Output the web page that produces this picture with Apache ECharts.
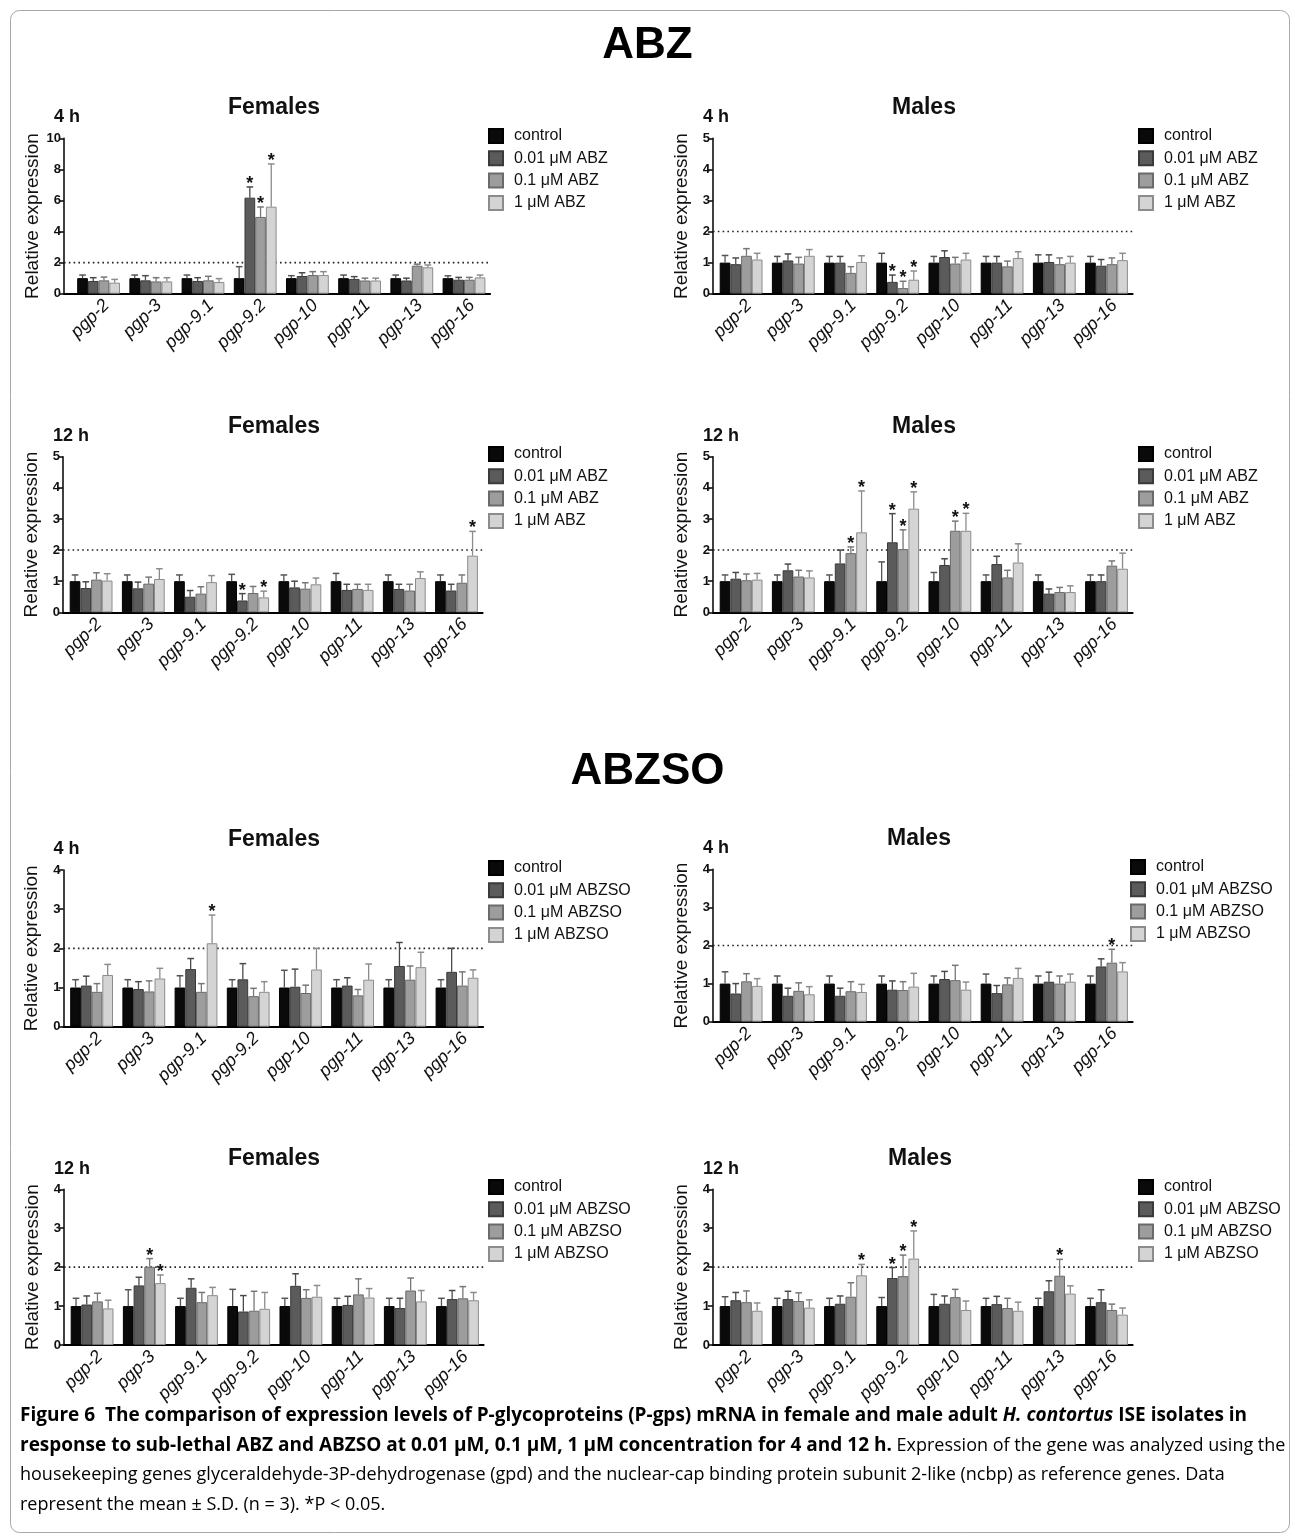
<!DOCTYPE html>
<html>
<head>
<meta charset="utf-8">
<title>P-gp expression after ABZ and ABZSO exposure</title>
<script src="https://cdn.jsdelivr.net/npm/echarts@6/dist/echarts.min.js"></script>
<style>
  html, body { margin: 0; padding: 0; background: #fff; }
  #chart { width: 1295px; height: 1537px; }
</style>
</head>
<body>
<div id="chart"></div>
<script>
// ---- data -------------------------------------------------------------
const genes = ['pgp-2', 'pgp-3', 'pgp-9.1', 'pgp-9.2', 'pgp-10', 'pgp-11', 'pgp-13', 'pgp-16'];
const abzNames = ['control', '0.01 \u03bcM ABZ', '0.1 \u03bcM ABZ', '1 \u03bcM ABZ'];
const abzsoNames = ['control', '0.01 \u03bcM ABZSO', '0.1 \u03bcM ABZSO', '1 \u03bcM ABZSO'];

// axis ranges: [min, max, step]
const abz4FAxis = [0, 10, 2];
const abz4MAxis = [0, 5, 1];
const abz12FAxis = [0, 5, 1];
const abz12MAxis = [0, 5, 1];
const abzso4FAxis = [0, 4, 1];
const abzso4MAxis = [0, 4, 1];
const abzso12FAxis = [0, 4, 1];
const abzso12MAxis = [0, 4, 1];

// mean relative expression, rows: control, 0.01, 0.1, 1 uM
const abz4FMean = [
  [1.00, 1.00, 1.00, 1.00, 1.00, 1.00, 1.00, 1.00],
  [0.82, 0.86, 0.82, 6.18, 1.14, 0.95, 0.85, 0.90],
  [0.86, 0.79, 0.86, 4.94, 1.20, 0.85, 1.80, 0.90],
  [0.71, 0.79, 0.75, 5.60, 1.20, 0.85, 1.70, 1.05]
];
const abz4FSd = [
  [0.20, 0.20, 0.20, 0.74, 0.16, 0.20, 0.20, 0.15],
  [0.21, 0.30, 0.21, 0.69, 0.21, 0.15, 0.15, 0.15],
  [0.21, 0.24, 0.26, 0.64, 0.22, 0.15, 0.10, 0.15],
  [0.21, 0.24, 0.22, 2.75, 0.22, 0.15, 0.15, 0.15]
];
const abz4FStars = [[3, 1], [3, 2], [3, 3]];

const abz4MMean = [
  [1.00, 1.00, 1.00, 1.00, 1.00, 1.00, 1.00, 1.00],
  [0.95, 1.07, 1.00, 0.38, 1.18, 1.00, 1.02, 0.90],
  [1.22, 0.97, 0.67, 0.18, 0.97, 0.88, 0.95, 0.95],
  [1.10, 1.22, 1.02, 0.45, 1.10, 1.15, 1.00, 1.08]
];
const abz4MSd = [
  [0.23, 0.20, 0.20, 0.30, 0.20, 0.20, 0.25, 0.20],
  [0.20, 0.21, 0.20, 0.22, 0.20, 0.20, 0.23, 0.20],
  [0.23, 0.20, 0.20, 0.22, 0.20, 0.17, 0.20, 0.20],
  [0.20, 0.20, 0.20, 0.28, 0.20, 0.20, 0.20, 0.22]
];
const abz4MStars = [[3, 1], [3, 2], [3, 3]];

const abz12FMean = [
  [1.00, 1.00, 1.00, 1.00, 1.00, 1.00, 1.00, 1.00],
  [0.78, 0.77, 0.50, 0.38, 0.80, 0.72, 0.75, 0.70],
  [1.05, 0.92, 0.60, 0.62, 0.76, 0.75, 0.70, 0.95],
  [1.02, 1.07, 0.97, 0.48, 0.90, 0.72, 1.10, 1.82]
];
const abz12FSd = [
  [0.20, 0.20, 0.20, 0.22, 0.20, 0.25, 0.20, 0.20],
  [0.20, 0.20, 0.20, 0.22, 0.20, 0.18, 0.15, 0.20],
  [0.22, 0.21, 0.22, 0.21, 0.19, 0.15, 0.20, 0.25],
  [0.22, 0.33, 0.21, 0.20, 0.20, 0.18, 0.20, 0.78]
];
const abz12FStars = [[3, 1], [3, 3], [7, 3]];

const abz12MMean = [
  [1.00, 1.00, 1.00, 1.00, 1.00, 1.00, 1.00, 1.00],
  [1.08, 1.35, 1.57, 2.25, 1.52, 1.55, 0.60, 1.00],
  [1.03, 1.15, 1.90, 2.03, 2.62, 1.12, 0.65, 1.50],
  [1.05, 1.12, 2.57, 3.33, 2.62, 1.60, 0.65, 1.40]
];
const abz12MSd = [
  [0.20, 0.20, 0.20, 0.62, 0.28, 0.20, 0.20, 0.20],
  [0.20, 0.20, 0.43, 0.92, 0.20, 0.25, 0.15, 0.20],
  [0.20, 0.20, 0.20, 0.62, 0.31, 0.23, 0.15, 0.15],
  [0.20, 0.21, 1.33, 0.54, 0.56, 0.60, 0.20, 0.50]
];
const abz12MStars = [[2, 2], [2, 3], [3, 1], [3, 2], [3, 3], [4, 2], [4, 3]];

const abzso4FMean = [
  [1.00, 1.00, 1.00, 1.00, 1.00, 1.00, 1.00, 1.00],
  [1.05, 0.96, 1.47, 1.21, 1.02, 1.05, 1.55, 1.40],
  [0.89, 0.90, 0.89, 0.78, 0.86, 0.80, 1.20, 1.05],
  [1.32, 1.23, 2.13, 0.89, 1.46, 1.20, 1.52, 1.25]
];
const abzso4FSd = [
  [0.20, 0.20, 0.30, 0.20, 0.44, 0.20, 0.20, 0.20],
  [0.24, 0.19, 0.27, 0.40, 0.45, 0.20, 0.60, 0.60],
  [0.21, 0.27, 0.21, 0.20, 0.20, 0.15, 0.35, 0.35],
  [0.27, 0.26, 0.72, 0.26, 0.54, 0.40, 0.38, 0.20]
];
const abzso4FStars = [[2, 3]];

const abzso4MMean = [
  [1.00, 1.00, 1.00, 1.00, 1.00, 1.00, 1.00, 1.00],
  [0.74, 0.68, 0.68, 0.84, 1.12, 0.75, 1.05, 1.45],
  [1.06, 0.81, 0.80, 0.83, 1.09, 0.98, 1.00, 1.55],
  [0.94, 0.72, 0.78, 0.92, 0.84, 1.15, 1.05, 1.32]
];
const abzso4MSd = [
  [0.31, 0.20, 0.20, 0.20, 0.20, 0.25, 0.20, 0.20],
  [0.26, 0.20, 0.20, 0.23, 0.20, 0.20, 0.25, 0.20],
  [0.20, 0.21, 0.25, 0.22, 0.39, 0.17, 0.20, 0.35],
  [0.19, 0.20, 0.20, 0.35, 0.20, 0.25, 0.20, 0.23]
];
const abzso4MStars = [[7, 2]];

const abzso12FMean = [
  [1.00, 1.00, 1.00, 1.00, 1.00, 1.00, 1.00, 1.00],
  [1.04, 1.53, 1.47, 0.86, 1.52, 1.03, 0.95, 1.18],
  [1.12, 2.01, 1.10, 0.88, 1.21, 1.30, 1.40, 1.20],
  [0.94, 1.59, 1.28, 0.93, 1.24, 1.22, 1.12, 1.15]
];
const abzso12FSd = [
  [0.20, 0.42, 0.20, 0.43, 0.20, 0.20, 0.20, 0.20],
  [0.22, 0.21, 0.23, 0.41, 0.31, 0.22, 0.25, 0.22],
  [0.21, 0.21, 0.25, 0.50, 0.21, 0.40, 0.32, 0.30],
  [0.21, 0.21, 0.20, 0.42, 0.29, 0.23, 0.28, 0.20]
];
const abzso12FStars = [[1, 2], [1, 3]];

const abzso12MMean = [
  [1.00, 1.00, 1.00, 1.00, 1.00, 1.00, 1.00, 1.00],
  [1.15, 1.18, 1.06, 1.72, 1.06, 1.05, 1.38, 1.10],
  [1.10, 1.13, 1.24, 1.77, 1.23, 0.95, 1.78, 0.90],
  [0.88, 0.96, 1.79, 2.22, 0.90, 0.88, 1.32, 0.78]
];
const abzso12MSd = [
  [0.24, 0.20, 0.20, 0.22, 0.30, 0.20, 0.20, 0.20],
  [0.20, 0.20, 0.20, 0.27, 0.20, 0.20, 0.27, 0.32],
  [0.29, 0.21, 0.36, 0.54, 0.20, 0.25, 0.42, 0.15],
  [0.20, 0.20, 0.28, 0.71, 0.23, 0.22, 0.20, 0.17]
];
const abzso12MStars = [[2, 3], [3, 1], [3, 2], [3, 3], [6, 2]];

const thresholdLevel = 2;

// ---- styling ----------------------------------------------------------
const FONT = "'Liberation Sans', Arial, Helvetica, sans-serif";
const barFill = ['#0a0a0a', '#5b5b5b', '#9d9d9d', '#d4d4d4'];
const barEdge = ['#000000', '#3a3a3a', '#6a6a6a', '#8c8c8c'];
const errColor = ['#555555', '#4a4a4a', '#777777', '#8c8c8c'];
const CAT_GAP = 0.18;
const BAND = 52.2;
const LABEL_DX = 8;   // gene names sit a little right of their bar group

// panel placement (axis x, plot top/bottom, legend anchor, heading positions)
const panels = [
  { mean: abz4FMean, sd: abz4FSd, stars: abz4FStars, axis: abz4FAxis, names: abzNames,
    x: 64, inset: 8.5, top: 138.3, bottom: 293.7, legX: 483, legY: 123, title: 'Females', titleX: 228, titleY: 109, time: '4 h', timeY: 117 },
  { mean: abz4MMean, sd: abz4MSd, stars: abz4MStars, axis: abz4MAxis, names: abzNames,
    x: 713, inset: 2, top: 138.3, bottom: 293.7, legX: 1133, legY: 123, title: 'Males', titleX: 892, titleY: 109, time: '4 h', timeY: 117 },
  { mean: abz12FMean, sd: abz12FSd, stars: abz12FStars, axis: abz12FAxis, names: abzNames,
    x: 63, inset: 2, top: 456.7, bottom: 612.3, legX: 483, legY: 441, title: 'Females', titleX: 228, titleY: 428, time: '12 h', timeY: 436 },
  { mean: abz12MMean, sd: abz12MSd, stars: abz12MStars, axis: abz12MAxis, names: abzNames,
    x: 713, inset: 2, top: 456.7, bottom: 612.3, legX: 1133, legY: 441, title: 'Males', titleX: 892, titleY: 428, time: '12 h', timeY: 436 },
  { mean: abzso4FMean, sd: abzso4FSd, stars: abzso4FStars, axis: abzso4FAxis, names: abzsoNames,
    x: 63.5, inset: 2, top: 870, bottom: 1026.7, legX: 483, legY: 855, title: 'Females', titleX: 228, titleY: 841, time: '4 h', timeY: 849 },
  { mean: abzso4MMean, sd: abzso4MSd, stars: abzso4MStars, axis: abzso4MAxis, names: abzsoNames,
    x: 713, inset: 2, top: 869.3, bottom: 1021.7, legX: 1125, legY: 854, title: 'Males', titleX: 887, titleY: 840, time: '4 h', timeY: 848 },
  { mean: abzso12FMean, sd: abzso12FSd, stars: abzso12FStars, axis: abzso12FAxis, names: abzsoNames,
    x: 64, inset: 2, top: 1189.3, bottom: 1345, legX: 483, legY: 1174, title: 'Females', titleX: 228, titleY: 1160, time: '12 h', timeY: 1169 },
  { mean: abzso12MMean, sd: abzso12MSd, stars: abzso12MStars, axis: abzso12MAxis, names: abzsoNames,
    x: 713, inset: 2, top: 1189.3, bottom: 1345, legX: 1133, legY: 1174, title: 'Males', titleX: 888, titleY: 1160, time: '12 h', timeY: 1169 }
];

// ---- build option -----------------------------------------------------
const grid = [], xAxis = [], yAxis = [], series = [], legend = [], graphic = [];

function errorRenderer(params, api) {
  const cat = api.value(0), s = api.value(1), m = api.value(2), t = api.value(3), star = api.value(4);
  const band = api.size([1, 0])[0];
  const bw = band * (1 - CAT_GAP) / 4;
  const base = api.coord([cat, m]);
  const x = base[0] + (s - 1.5) * bw;
  const yt = api.coord([cat, t])[1];
  const cap = bw * 0.62;
  const col = errColor[s];
  const kids = [
    { type: 'line', shape: { x1: x, y1: base[1], x2: x, y2: yt }, style: { stroke: col, lineWidth: 1.3 } },
    { type: 'line', shape: { x1: x - cap / 2, y1: yt, x2: x + cap / 2, y2: yt }, style: { stroke: col, lineWidth: 1.5 } }
  ];
  if (star) {
    kids.push({ type: 'text', style: { text: '*', x: x, y: yt + 6, align: 'center', verticalAlign: 'bottom',
      font: 'bold 18px ' + FONT, fill: '#111' } });
  }
  return { type: 'group', children: kids };
}

panels.forEach(function (p, i) {
  const gFrame = 3 * i, gBars = 3 * i + 1, gLabels = 3 * i + 2;
  const h = p.bottom - p.top;
  const w = BAND * genes.length;
  grid.push({ left: p.x, top: p.top, width: p.inset + w, height: h });
  grid.push({ left: p.x + p.inset, top: p.top, width: w, height: h });
  grid.push({ left: p.x + p.inset + LABEL_DX, top: p.top, width: w, height: h });

  // frame: y axis, baseline and threshold line
  xAxis.push({ gridIndex: gFrame, type: 'value', min: 0, max: 1,
    axisLine: { show: true, onZero: false, lineStyle: { color: '#000', width: 2 } },
    axisTick: { show: false }, axisLabel: { show: false }, splitLine: { show: false } });
  yAxis.push({ gridIndex: gFrame, type: 'value', min: p.axis[0], max: p.axis[1], interval: p.axis[2],
    axisLine: { show: true, lineStyle: { color: '#111', width: 1.6 } },
    axisTick: { show: true, length: 5, lineStyle: { color: '#111', width: 1.6 } },
    axisLabel: { fontFamily: FONT, fontWeight: 'bold', fontSize: 13, color: '#111', margin: 3 },
    splitLine: { show: false },
    name: 'Relative expression', nameLocation: 'middle', nameGap: 22,
    nameTextStyle: { fontFamily: FONT, fontSize: 19, color: '#111' } });

  // bars: category axis (no labels)
  xAxis.push({ gridIndex: gBars, type: 'category', data: genes,
    axisLine: { show: false }, axisTick: { show: false }, axisLabel: { show: false } });
  yAxis.push({ gridIndex: gBars, type: 'value', min: p.axis[0], max: p.axis[1], interval: p.axis[2], show: false });

  // gene-name labels
  xAxis.push({ gridIndex: gLabels, type: 'category', data: genes,
    axisLine: { show: false }, axisTick: { show: false },
    axisLabel: { interval: 0, rotate: 45, margin: 9,
      fontFamily: FONT, fontStyle: 'italic', fontSize: 18, color: '#111' } });
  yAxis.push({ gridIndex: gLabels, type: 'value', min: p.axis[0], max: p.axis[1], interval: p.axis[2], show: false });

  series.push({ type: 'line', xAxisIndex: gFrame, yAxisIndex: gFrame, silent: true, symbol: 'none', z: 1,
    data: [[0, thresholdLevel], [1, thresholdLevel]],
    lineStyle: { color: '#222', width: 1.6, type: [1.6, 3.2] } });

  for (let s = 0; s < 4; s++) {
    series.push({ type: 'bar', name: p.names[s], xAxisIndex: gBars, yAxisIndex: gBars,
      data: p.mean[s], barGap: '0%', barCategoryGap: (CAT_GAP * 100) + '%',
      itemStyle: { color: barFill[s], borderColor: barEdge[s], borderWidth: 1 }, silent: true, z: 3 });
  }

  const errData = [];
  for (let s = 0; s < 4; s++) {
    for (let c = 0; c < genes.length; c++) {
      const starred = p.stars.some(function (st) { return st[0] === c && st[1] === s; }) ? 1 : 0;
      errData.push([c, s, p.mean[s][c], p.mean[s][c] + p.sd[s][c], starred]);
    }
  }
  series.push({ type: 'custom', xAxisIndex: gBars, yAxisIndex: gBars, renderItem: errorRenderer,
    data: errData, silent: true, z: 4, encode: { x: 0, y: 3 } });

  legend.push({ data: p.names, orient: 'vertical', left: p.legX, top: p.legY, icon: 'rect',
    itemWidth: 14, itemHeight: 14, itemGap: 6.3, selectedMode: false,
    textStyle: { fontFamily: FONT, fontSize: 16, color: '#111', lineHeight: 16, padding: [0, 0, 0, 6] } });

  graphic.push({ type: 'text', left: p.titleX, top: p.titleY - 13,
    style: { text: p.title, font: 'bold 23px ' + FONT, fill: '#111' } });
  graphic.push({ type: 'text', left: p.x - 10, top: p.timeY - 9,
    style: { text: p.time, font: 'bold 18px ' + FONT, fill: '#111' } });
});

// figure frame and section headings
graphic.unshift({ type: 'rect', left: 8, top: 8, z: -10,
  shape: { width: 1279, height: 1522, r: 9 }, style: { fill: 'none', stroke: '#a8a8a8', lineWidth: 1 } });
graphic.push({ type: 'text', left: 'center', top: 24,
  style: { text: 'ABZ', font: 'bold 44px ' + FONT, fill: '#000' } });
graphic.push({ type: 'text', left: 'center', top: 750,
  style: { text: 'ABZSO', font: 'bold 44px ' + FONT, fill: '#000' } });

// caption
const CAP = "'Open Sans', 'Noto Sans', sans-serif";
const capRich = {
  b: { fontFamily: CAP, fontWeight: 'bold', fontSize: 19, color: '#1e1e1e' },
  bi: { fontFamily: CAP, fontWeight: 'bold', fontStyle: 'italic', fontSize: 19, color: '#1e1e1e' },
  r: { fontFamily: CAP, fontSize: 18, color: '#4a4a4a' }
};
const capLines = [
  '{b|Figure 6  The comparison of expression levels of P-glycoproteins (P-gps) mRNA in female and male adult }{bi|H. contortus}{b| ISE isolates in}',
  '{b|response to sub-lethal ABZ and ABZSO at 0.01 \u03bcM, 0.1 \u03bcM, 1 \u03bcM concentration for 4 and 12 h.}{r| Expression of the gene was analyzed using the}',
  '{r|housekeeping genes glyceraldehyde-3P-dehydrogenase (gpd) and the nuclear-cap binding protein subunit 2-like (ncbp) as reference genes. Data}',
  '{r|represent the mean \u00b1 S.D. (n = 3). *P < 0.05.}'
];
const capY = [1418, 1448, 1478, 1508];
capLines.forEach(function (t, k) {
  graphic.push({ type: 'text', left: 20, top: capY[k] - 12,
    style: { text: t, rich: capRich } });
});

const chart = echarts.init(document.getElementById('chart'), null, { renderer: 'canvas', width: 1295, height: 1537 });
chart.setOption({
  backgroundColor: '#ffffff',
  animation: false,
  grid: grid, xAxis: xAxis, yAxis: yAxis, series: series, legend: legend, graphic: graphic
});
</script>
</body>
</html>
